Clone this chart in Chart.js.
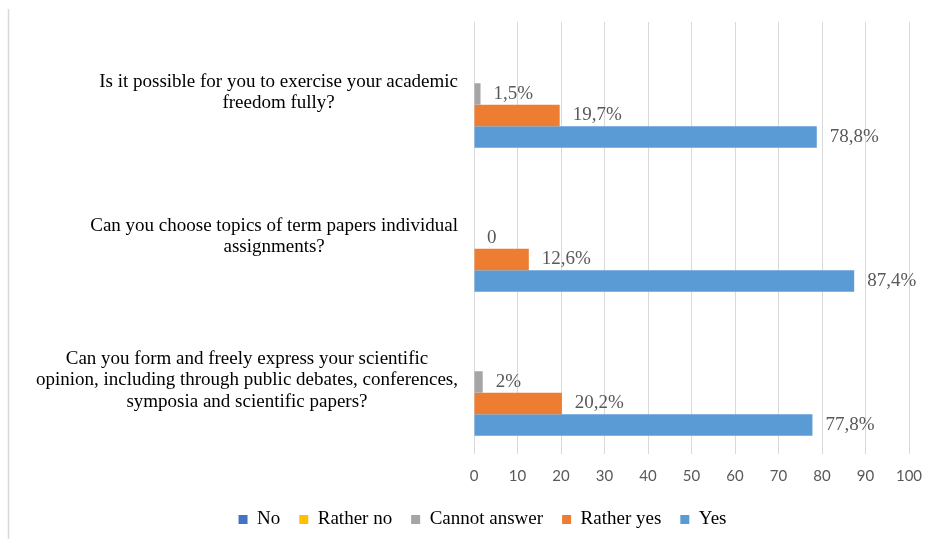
<!DOCTYPE html>
<html>
<head>
<meta charset="utf-8">
<script src="https://cdn.jsdelivr.net/npm/chart.js@4"></script>
<style>
    body { margin: 0; background: #fff; }
    canvas { display: block; }
</style>
</head>
<body>
<canvas id="chart" width="941" height="539"></canvas>
<script>
// Survey questions (each one split into the lines shown on the axis)
const questions = [
    ['Is it possible for you to exercise your academic', 'freedom fully?'],
    ['Can you choose topics of term papers individual', 'assignments?'],
    ['Can you form and freely express your scientific', 'opinion, including through public debates, conferences,', 'symposia and scientific papers?']
];

// Answer shares, %
const noValues = [0, 0, 0];
const ratherNoValues = [0, 0, 0];
const cannotAnswerValues = [1.5, 0, 2];
const ratherYesValues = [19.7, 12.6, 20.2];
const yesValues = [78.8, 87.4, 77.8];

const xTicks = [0, 10, 20, 30, 40, 50, 60, 70, 80, 90, 100];

const serif = '"Liberation Serif", "Times New Roman", serif';

function formatValue(v) {
    if (v === 0) return '0';
    return String(v).replace('.', ',') + '%';
}

// Draw the question texts: each block right-aligned, lines centred inside it
const questionLabels = {
    id: 'questionLabels',
    afterDraw(chart) {
        const ctx = chart.ctx;
        const yScale = chart.scales.y;
        const lineH = 21.5;
        ctx.save();
        ctx.font = '19px ' + serif;
        ctx.fillStyle = '#000';
        ctx.textAlign = 'center';
        ctx.textBaseline = 'middle';
        questions.forEach((lines, i) => {
            const maxW = Math.max(...lines.map(l => ctx.measureText(l).width));
            const cx = 458 - maxW / 2;
            const cy = yScale.getPixelForValue(i) - 1.5;
            const top = cy - lines.length * lineH / 2;
            lines.forEach((line, k) => {
                ctx.fillText(line, cx, top + lineH * (k + 0.5));
            });
        });
        ctx.restore();
    }
};

// Value labels to the right of the bars
const valueLabels = {
    id: 'valueLabels',
    afterDatasetsDraw(chart) {
        const ctx = chart.ctx;
        ctx.save();
        ctx.font = '19px ' + serif;
        ctx.fillStyle = '#595959';
        ctx.textAlign = 'left';
        ctx.textBaseline = 'middle';
        chart.data.datasets.forEach((ds, di) => {
            if (!ds.showLabels) return;
            chart.getDatasetMeta(di).data.forEach((bar, i) => {
                ctx.fillText(formatValue(ds.data[i]), bar.x + 13, bar.y);
            });
        });
        ctx.restore();
    }
};

// Left edge of the chart frame
const frameLine = {
    id: 'frameLine',
    beforeDraw(chart) {
        const ctx = chart.ctx;
        ctx.save();
        ctx.strokeStyle = '#d9d9d9';
        ctx.lineWidth = 1.5;
        ctx.beginPath();
        ctx.moveTo(8.5, 9);
        ctx.lineTo(8.5, 539);
        ctx.stroke();
        ctx.restore();
    }
};

new Chart(document.getElementById('chart'), {
    type: 'bar',
    data: {
        labels: questions,
        datasets: [
            { label: 'No', data: noValues, backgroundColor: '#4472C4' },
            { label: 'Rather no', data: ratherNoValues, backgroundColor: '#FFC000' },
            { label: 'Cannot answer', data: cannotAnswerValues, backgroundColor: '#A5A5A5', showLabels: true },
            { label: 'Rather yes', data: ratherYesValues, backgroundColor: '#ED7D31', showLabels: true },
            { label: 'Yes', data: yesValues, backgroundColor: '#5B9BD5', showLabels: true }
        ]
    },
    options: {
        indexAxis: 'y',
        responsive: false,
        animation: false,
        datasets: {
            bar: {
                barPercentage: 1,
                categoryPercentage: 0.745,
                borderWidth: 0
            }
        },
        layout: {
            padding: { left: 56, right: 32, top: 22, bottom: 0 }
        },
        scales: {
            x: {
                min: 0,
                max: 100,
                afterBuildTicks: scale => {
                    scale.ticks = xTicks.map(v => ({ value: v }));
                },
                grid: { color: '#d9d9d9', lineWidth: 1, drawTicks: false },
                border: { display: false },
                ticks: {
                    padding: 13,
                    color: '#595959',
                    font: { family: 'Lato, "Open Sans", sans-serif', size: 15 }
                },
                afterFit: scale => { scale.height = 37; }
            },
            y: {
                grid: { display: false },
                border: { display: false },
                ticks: { display: false },
                afterFit: scale => { scale.width = 418; }
            }
        },
        plugins: {
            legend: {
                position: 'bottom',
                labels: {
                    boxWidth: 9,
                    boxHeight: 9,
                    padding: 19,
                    color: '#000',
                    font: { family: serif, size: 19 }
                }
            },
            tooltip: { enabled: false }
        }
    },
    plugins: [frameLine, questionLabels, valueLabels]
});
</script>
</body>
</html>
